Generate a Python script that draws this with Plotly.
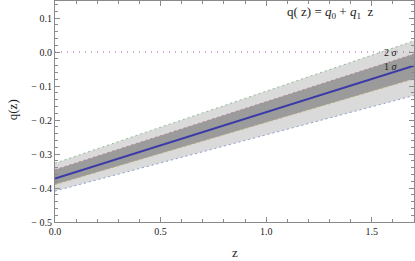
import plotly.graph_objects as go

# data
z = [0.0, 0.5, 1.0, 1.5, 1.7]
q_best = [-0.372, -0.274, -0.177, -0.079, -0.040]
q_up1 = [-0.346, -0.246, -0.146, -0.046, -0.006]
q_lo1 = [-0.390, -0.299, -0.207, -0.116, -0.079]
q_up2 = [-0.327, -0.221, -0.115, -0.009, 0.033]
q_lo2 = [-0.409, -0.326, -0.244, -0.161, -0.128]

y_ticks = [0.1, 0.0, -0.1, -0.2, -0.3, -0.4, -0.5]
y_ticktext = ["0.1", "0.0", "\u2212 0.1", "\u2212 0.2", "\u2212 0.3", "\u2212 0.4", "\u2212 0.5"]
x_ticks = [0.0, 0.5, 1.0, 1.5]
x_ticktext = ["0.0", "0.5", "1.0", "1.5"]

SERIF = "'Liberation Serif', 'DejaVu Serif', serif"
FRAME = "#8a8a8a"

fig = go.Figure()

# 2 sigma band
fig.add_trace(go.Scatter(x=z, y=q_lo2, mode="lines", line=dict(width=0), showlegend=False, hoverinfo="skip"))
fig.add_trace(go.Scatter(x=z, y=q_up2, mode="lines", line=dict(width=0), fill="tonexty",
                         fillcolor="#dadada", showlegend=False, hoverinfo="skip"))
# 1 sigma band
fig.add_trace(go.Scatter(x=z, y=q_lo1, mode="lines", line=dict(width=0), showlegend=False, hoverinfo="skip"))
fig.add_trace(go.Scatter(x=z, y=q_up1, mode="lines", line=dict(width=0), fill="tonexty",
                         fillcolor="#9b9b9b", showlegend=False, hoverinfo="skip"))

# dashed edges
for ys, col in [(q_up2, "#78b078"), (q_up1, "#b8709a"), (q_lo1, "#c0a860"), (q_lo2, "#7088c8")]:
    fig.add_trace(go.Scatter(x=z, y=ys, mode="lines", line=dict(color=col, width=0.8, dash="2px,3px"),
                             showlegend=False, hoverinfo="skip"))

# zero line
fig.add_trace(go.Scatter(x=[0.0, 1.7], y=[0.0, 0.0], mode="lines",
                         line=dict(color="#9a5a9a", width=1, dash="1px,5px"),
                         showlegend=False, hoverinfo="skip"))

# best fit
fig.add_trace(go.Scatter(x=z, y=q_best, mode="lines", line=dict(color="#3a3aa8", width=2),
                         showlegend=False, hoverinfo="skip"))

fig.update_layout(
    width=415, height=261,
    margin=dict(l=55, r=1, t=1, b=39),
    paper_bgcolor="white", plot_bgcolor="white",
    font=dict(family=SERIF, size=9, color="#222"),
    xaxis=dict(range=[0, 1.7], tickvals=x_ticks, ticktext=x_ticktext,
               ticks="inside", ticklen=5, tickcolor=FRAME, tickwidth=1,
               minor=dict(dtick=0.1, ticks="inside", ticklen=3, tickcolor=FRAME),
               showline=True, linecolor=FRAME, linewidth=1, mirror="ticks",
               showgrid=False, zeroline=False, tickfont=dict(family=SERIF, size=10)),
    yaxis=dict(range=[-0.5, 0.15], tickvals=y_ticks, ticktext=y_ticktext,
               ticks="inside", ticklen=5, tickcolor=FRAME, tickwidth=1,
               minor=dict(dtick=0.02, ticks="inside", ticklen=3, tickcolor=FRAME),
               showline=True, linecolor=FRAME, linewidth=1, mirror="ticks",
               showgrid=False, zeroline=False, tickfont=dict(family=SERIF, size=10)),
)

fig.add_annotation(x=-0.12, y=0.51, xref="paper", yref="paper", text="q(z)", showarrow=False,
                   textangle=-90, font=dict(family=SERIF, size=13), xanchor="center", yanchor="middle")
fig.add_annotation(x=0.5, y=-0.14, xref="paper", yref="paper", text="z", showarrow=False,
                   font=dict(family=SERIF, size=13), xanchor="center", yanchor="middle")
fig.add_annotation(x=1.30, y=0.116, xref="x", yref="y",
                   text="q( z) = <i>q</i><sub>0</sub> + <i>q</i><sub>1</sub>  z", showarrow=False,
                   font=dict(family=SERIF, size=13), xanchor="center", yanchor="middle")
fig.add_annotation(x=1.635, y=-0.002, xref="x", yref="y", text="2 <i>σ</i>", showarrow=False,
                   font=dict(family=SERIF, size=10), xanchor="right", yanchor="middle")
fig.add_annotation(x=1.635, y=-0.042, xref="x", yref="y", text="1 <i>σ</i>", showarrow=False,
                   font=dict(family=SERIF, size=10), xanchor="right", yanchor="middle")

fig.write_html("out.html", config={"displayModeBar": False},
               post_script="document.body.style.margin='0px';document.body.style.overflow='hidden';")
